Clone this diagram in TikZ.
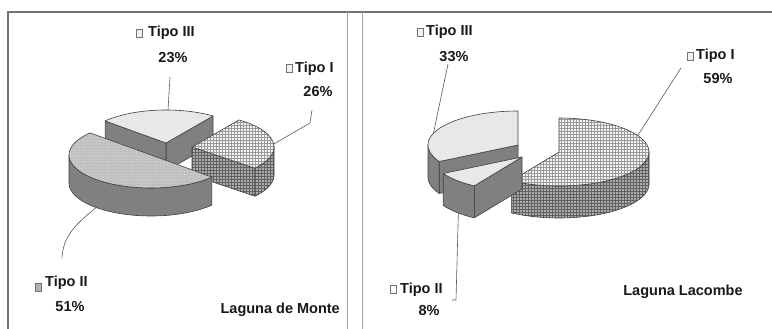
\documentclass[tikz,border=0pt]{standalone}
\usepackage{fontspec}
\setmainfont{Liberation Sans}
\usetikzlibrary{patterns}
\newcommand\pTop[7]{\path[#1] (#2,#3) -- plot[domain=#6:#7,samples=60,variable=\t] ({#2+#4*cos(\t)},{#3-#5*sin(\t)}) -- cycle;}
\newcommand\pSide[8]{\path[#1] plot[domain=#7:#8,samples=60,variable=\t] ({#2+#4*cos(\t)},{#3-#5*sin(\t)}) -- plot[domain=#8:#7,samples=60,variable=\t] ({#2+#4*cos(\t)},{#3+#6-#5*sin(\t)}) -- cycle;}
\newcommand\pFace[7]{\path[#1] (#2,#3) -- ({#2+#4*cos(#7)},{#3-#5*sin(#7)}) -- ++(0,#6) -- ({#2},{#3+#6}) -- cycle;}
\tikzset{
  edge/.style={draw=black!75, line width=0.6pt, line join=round},
  chktop/.style={fill=black!4, postaction={pattern=grid, pattern color=black!40}, postaction={edge}},
  chkside/.style={fill=black!32, postaction={pattern=grid, pattern color=black!62}, postaction={edge}},
  dottop/.style={fill=black!22, postaction={pattern=dots, pattern color=black!45}, postaction={edge}},
  darkside/.style={fill=black!50, postaction={edge}},
  lighttop/.style={fill=black!9, postaction={edge}},
  panel/.style={draw=black!55, line width=1.2pt},
  divider/.style={draw=black!35, line width=0.8pt},
  lbl/.style={font=\fontsize{14.5}{16}\selectfont\bfseries, text=black!90, inner sep=0pt},
  lsq/.style={draw=black!55, fill=black!6, minimum width=6.5pt, minimum height=8pt, inner sep=0pt, line width=0.5pt},
  leader/.style={draw=black!65, line width=0.6pt}
}
\begin{document}
\begin{tikzpicture}[x=1pt,y=-1pt]
\useasboundingbox (0,0) rectangle (772,329);
\fill[white] (0,0) rectangle (772,329);
% panel frame
\draw[panel] (8,329) -- (8,12) -- (772,12);
\draw[divider] (347,12) -- (347,329);
\draw[divider] (362,12) -- (362,329);

% ---------- left pie (Laguna de Monte) a=82 b=33 h=28
% Tipo III
\pFace{darkside}{166}{143}{82}{33}{28}{55}
\pFace{darkside}{166}{143}{82}{33}{28}{138}
\pTop{lighttop}{166}{143}{82}{33}{55}{138}
% Tipo I
\pFace{chkside}{192}{147}{82}{33}{28}{-40}
\pSide{chkside}{192}{147}{82}{33}{28}{-40}{0}
\pTop{chktop}{192}{147}{82}{33}{-40}{55}
% Tipo II
\pSide{darkside}{151}{155}{82}{33}{28}{180}{318}
\pTop{dottop}{151}{155}{82}{33}{138}{318}

% ---------- right pie (Laguna Lacombe) a=90 b=34 h=32
% Tipo III
\pFace{darkside}{518}{145}{90}{34}{32}{209}
\pSide{darkside}{518}{145}{90}{34}{32}{180}{209}
\pTop{lighttop}{518}{145}{90}{34}{90}{209}
% Tipo I
\pSide{chkside}{559}{152}{90}{34}{32}{-122}{0}
\pTop{chktop}{559}{152}{90}{34}{-122}{90}
% Tipo II
\pFace{darkside}{522}{157}{90}{34}{32}{238}
\pSide{darkside}{522}{157}{90}{34}{32}{209}{238}
\pTop{lighttop}{522}{157}{90}{34}{209}{238}

% ---------- labels left
\node[lsq] (q3L) at (139,33) {};
\node[lbl, anchor=base west] (t3L) at (148,37) {Tipo III};
\node[lbl, anchor=base] (p3L) at (173,63) {23\%};
\node[lsq] (q1L) at (289,68) {};
\node[lbl, anchor=base west] (t1L) at (295,73) {Tipo I};
\node[lbl, anchor=base] (p1L) at (318,97) {26\%};
\node[lsq, fill=black!30] (q2L) at (38,287) {};
\node[lbl, anchor=base west] (t2L) at (45,286) {Tipo II};
\node[lbl, anchor=base] (p2L) at (70,311) {51\%};
\node[lbl, anchor=base east] (nameL) at (340,313) {Laguna de Monte};

% ---------- labels right
\node[lsq] (q3R) at (420,32) {};
\node[lbl, anchor=base west] (t3R) at (426,36) {Tipo III};
\node[lbl, anchor=base] (p3R) at (454,62) {33\%};
\node[lsq] (q1R) at (690,56) {};
\node[lbl, anchor=base west] (t1R) at (696,60) {Tipo I};
\node[lbl, anchor=base] (p1R) at (718,84) {59\%};
\node[lsq, fill=white] (q2R) at (393,289) {};
\node[lbl, anchor=base west] (t2R) at (400,293) {Tipo II};
\node[lbl, anchor=base] (p2R) at (429,315) {8\%};
\node[lbl, anchor=base] (nameR) at (683,295) {Laguna Lacombe};

% ---------- leader lines
\coordinate (s3L) at (170,77);
\coordinate (e3L) at (168,110);
\coordinate (s1L) at (312,110);
\coordinate (b1L) at (310,123);
\coordinate (e1L) at ({192+82*cos(5)},{147-33*sin(5)});
\coordinate (s2L) at (62,258);
\coordinate (e2L) at ({151+82*cos(228)},{155+28-33*sin(228)});
\coordinate (s3R) at (448,64);
\coordinate (e3R) at ({518+90*cos(160)},{145-34*sin(160)});
\coordinate (s1R) at (681,68);
\coordinate (e1R) at ({559+90*cos(29)},{152-34*sin(29)});
\coordinate (s2R) at (452,300);
\coordinate (b2R) at (456,300);
\coordinate (e2R) at ({522+90*cos(225)},{157+32-34*sin(225)});
\draw[leader] (s3L) -- (e3L);
\draw[leader] (s1L) -- (b1L) -- (e1L);
\draw[leader] (s2L) .. controls (63,236) and (76,224) .. (e2L);
\draw[leader] (s3R) -- (e3R);
\draw[leader] (s1R) -- (e1R);
\draw[leader] (s2R) -- (b2R) -- (e2R);
\end{tikzpicture}
\end{document}
